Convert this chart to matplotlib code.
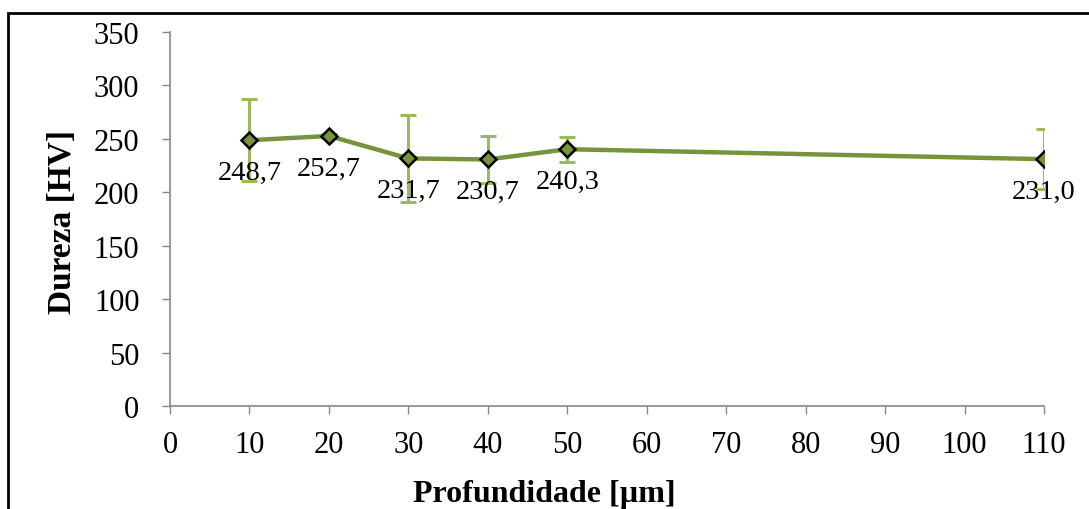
import matplotlib.pyplot as plt
from matplotlib.patches import Rectangle

# hardness profile vs depth
profundidade = [10, 20, 30, 40, 50, 110]
dureza = [248.7, 252.7, 231.7, 230.7, 240.3, 231.0]
desvio = [38.6, 1.5, 41.0, 22.4, 11.7, 28.2]
xticks = [0, 10, 20, 30, 40, 50, 60, 70, 80, 90, 100, 110]
yticks = [0, 50, 100, 150, 200, 250, 300, 350]

plt.rcParams['font.family'] = ['Liberation Serif', 'DejaVu Serif']

fig = plt.figure(figsize=(10.89, 5.10), dpi=100)
ax = fig.add_axes([0.1561, 0.2020, 0.8026, 0.7333])

ax.errorbar(profundidade, dureza, yerr=desvio, fmt='none', ecolor='#9BBB59',
            elinewidth=2.2, capsize=6, capthick=2.2, zorder=2)
ax.plot(profundidade, dureza, color='#77933C', lw=3.2, marker='D', ms=8,
        mfc='#77933C', mec='black', mew=1.8, zorder=3)

for x, y in zip(profundidade, dureza):
    ax.annotate(('%.1f' % y).replace('.', ','), (x, y), xytext=(0, -14),
                textcoords='offset points', ha='center', va='top',
                fontsize=20.5, color='black', zorder=4)

ax.set_xlim(0, 110)
ax.set_ylim(0, 350)
ax.set_xticks(xticks)
ax.set_yticks(yticks)
ax.tick_params(labelsize=22, length=6, width=1, color='#888888', pad=11)
ax.tick_params(axis='y', pad=16)
for s in ['top', 'right']:
    ax.spines[s].set_visible(False)
for s in ['left', 'bottom']:
    ax.spines[s].set_color('#888888')
    ax.spines[s].set_linewidth(1.2)

fig.text(0.057, 0.565, 'Dureza [HV]', rotation=90, ha='center', va='center',
         fontsize=24, fontweight='bold')
fig.text(0.500, 0.030, 'Profundidade [\u00b5m]', ha='center', va='center',
         fontsize=23, fontweight='bold')

# outer frame
fig.patches.append(Rectangle((8 / 1089, -0.1), 1.2, 1.1 - 14 / 510,
                             transform=fig.transFigure, fill=False,
                             edgecolor='black', lw=2))

fig.savefig('out.png', dpi=100)
